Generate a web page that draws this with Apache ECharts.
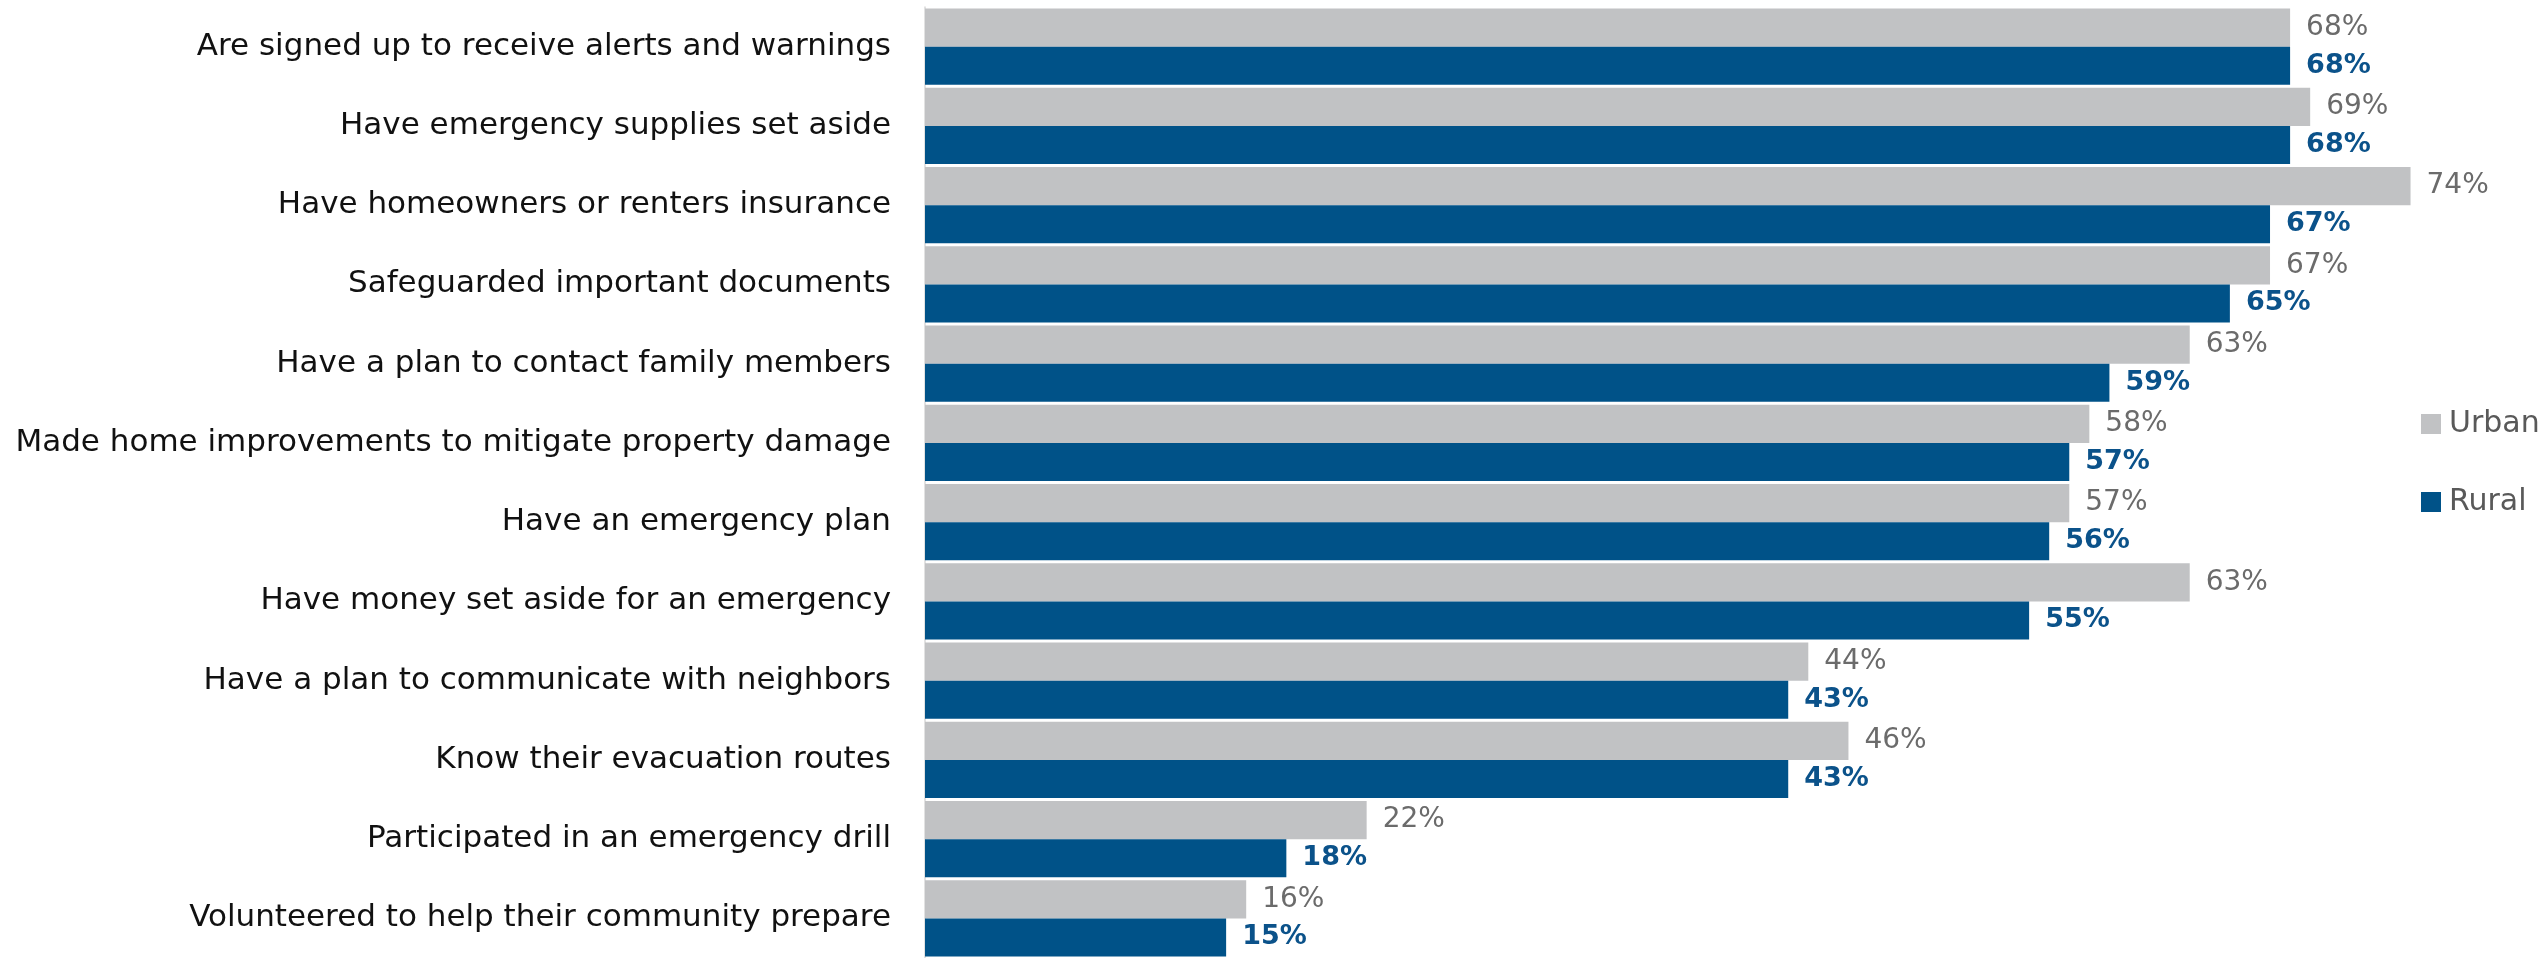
<!DOCTYPE html>
<html>
<head>
<meta charset="utf-8">
<script src="https://cdn.jsdelivr.net/npm/echarts@6/dist/echarts.min.js"></script>
<style>
html,body{margin:0;padding:0;background:#fff;}
#chart{width:2542px;height:958px;}
</style>
</head>
<body>
<div id="chart"></div>
<script>
const categories = [
  "Are signed up to receive alerts and warnings",
  "Have emergency supplies set aside",
  "Have homeowners or renters insurance",
  "Safeguarded important documents",
  "Have a plan to contact family members",
  "Made home improvements to mitigate property damage",
  "Have an emergency plan",
  "Have money set aside for an emergency",
  "Have a plan to communicate with neighbors",
  "Know their evacuation routes",
  "Participated in an emergency drill",
  "Volunteered to help their community prepare"
];
const urban = [68, 69, 74, 67, 63, 58, 57, 63, 44, 46, 22, 16];
const rural = [68, 68, 67, 65, 59, 57, 56, 55, 43, 43, 18, 15];
const seriesNames = ["Urban", "Rural"];

const FONT = "DejaVu Sans";
const chart = echarts.init(document.getElementById('chart'), null, {renderer: 'canvas'});
chart.setOption({
  animation: false,
  backgroundColor: '#ffffff',
  grid: {left: 925, top: 7, height: 956, right: 11},
  legend: {
    orient: 'vertical',
    left: 2416,
    top: 404,
    itemWidth: 20,
    itemHeight: 20,
    itemGap: 48,
    icon: 'rect',
    textStyle: {fontFamily: FONT, fontSize: 30, color: '#595959', lineHeight: 20, padding: [0, 0, 0, 3]},
    data: seriesNames
  },
  xAxis: {
    type: 'value', min: 0, max: 80, show: false
  },
  yAxis: {
    type: 'category',
    inverse: true,
    data: categories,
    axisTick: {show: false},
    axisLine: {show: true, lineStyle: {color: '#d9d9d9', width: 1.5}},
    axisLabel: {fontFamily: FONT, fontSize: 31, color: '#111111', margin: 34}
  },
  series: [
    {
      name: seriesNames[0],
      type: 'bar',
      data: urban,
      barGap: '0%',
      barCategoryGap: '4%',
      itemStyle: {color: '#c1c2c4'},
      label: {show: true, position: 'right', distance: 16, formatter: '{c}%',
        fontFamily: FONT, fontSize: 28, color: '#6b6b6b'}
    },
    {
      name: seriesNames[1],
      type: 'bar',
      data: rural,
      barGap: '0%',
      barCategoryGap: '4%',
      itemStyle: {color: '#005288'},
      label: {show: true, position: 'right', distance: 16, formatter: '{c}%',
        fontFamily: FONT, fontSize: 27, fontWeight: 'bold', color: '#0b528a'}
    }
  ]
});
</script>
</body>
</html>
